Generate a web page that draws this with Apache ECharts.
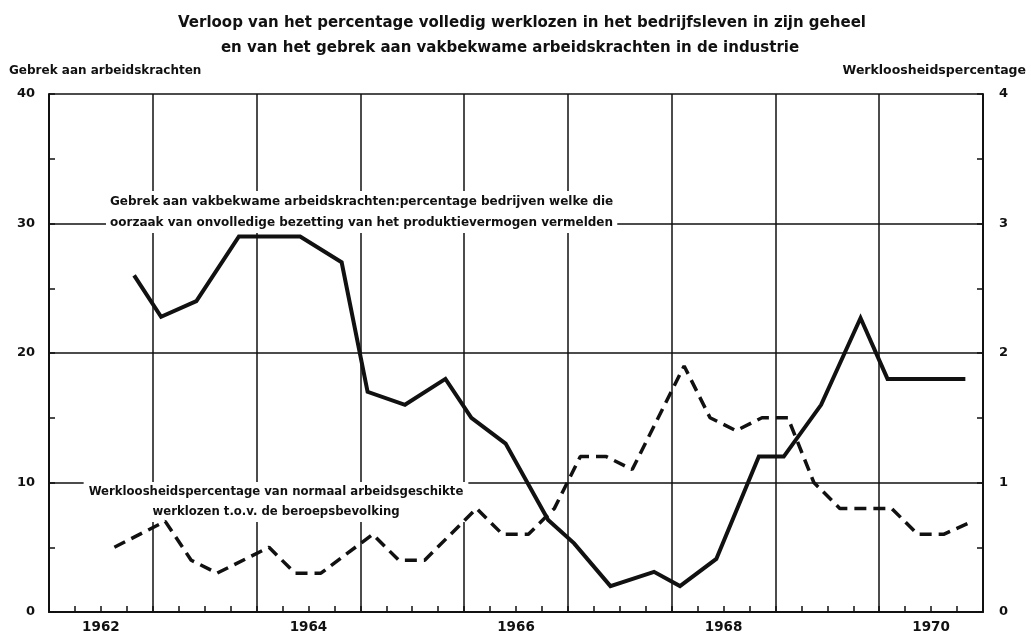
<!DOCTYPE html>
<html>
<head>
<meta charset="utf-8" />
<title>Werkloosheid en gebrek aan arbeidskrachten</title>
<script src="https://cdn.jsdelivr.net/npm/echarts@6/dist/echarts.min.js"></script>
<style>
html, body { margin: 0; padding: 0; background: #fff; }
#chart { width: 1031px; height: 634px; }
</style>
</head>
<body>
<div id="chart"></div>
<script>
// gebrek aan vakbekwame arbeidskrachten (linker as, %)
var tekortJaren = [1962.82, 1963.08, 1963.42, 1963.83, 1964.08, 1964.42, 1964.82, 1965.07, 1965.43, 1965.82,
	1966.07, 1966.4, 1966.81, 1967.06, 1967.41, 1967.83, 1968.08, 1968.43, 1968.84, 1969.08, 1969.44, 1969.82,
	1970.08, 1970.42, 1970.83];
var tekortWaarden = [26, 22.8, 24, 29, 29, 29, 27, 17, 16, 18, 15, 13, 7.1, 5.3, 2, 3.1, 2, 4.1, 12, 12, 16, 22.7,
	18, 18, 18];

// werkloosheidspercentage (rechter as)
var werklJaren = [1962.63, 1963.12, 1963.37, 1963.62, 1964.12, 1964.37, 1964.62, 1965.12, 1965.37, 1965.62,
	1966.12, 1966.37, 1966.62, 1966.87, 1967.12, 1967.37, 1967.62, 1968.12, 1968.37, 1968.62, 1968.87,
	1969.12, 1969.37, 1969.62, 1969.87, 1970.12, 1970.37, 1970.62, 1970.9];
var werklWaarden = [0.5, 0.7, 0.4, 0.3, 0.5, 0.3, 0.3, 0.6, 0.4, 0.4, 0.8, 0.6, 0.6, 0.8, 1.2, 1.2, 1.1, 1.9, 1.5,
	1.4, 1.5, 1.5, 1.0, 0.8, 0.8, 0.8, 0.6, 0.6, 0.7];

var jaarLabels = ['1962', '', '1964', '', '1966', '', '1968', '', '1970'];

var zwart = '#111';
var fam = '"DejaVu Sans", sans-serif';

function paren(xs, ys) {
	var out = [];
	for (var i = 0; i < xs.length; i++) {
		out.push([xs[i], ys[i]]);
	}
	return out;
}

var lijn = { color: zwart, width: 1.5 };

var option = {
	animation: false,
	backgroundColor: '#fff',
	grid: { left: 49, right: 48, top: 94, bottom: 19 },
	xAxis: [{
		type: 'value', min: 1962, max: 1971, interval: 1,
		axisLine: { lineStyle: { color: zwart, width: 2 } },
		axisTick: { show: true, inside: true, length: 6, lineStyle: lijn },
		minorTick: { show: true, splitNumber: 4, length: 6, lineStyle: lijn },
		axisLabel: { show: false },
		splitLine: { show: true, lineStyle: lijn }
	}, {
		type: 'category', data: jaarLabels, boundaryGap: true, position: 'bottom',
		axisLine: { show: false }, axisTick: { show: false }, splitLine: { show: false },
		axisLabel: { interval: 0, margin: 8, color: zwart, fontSize: 13.5, fontWeight: 'bold', fontFamily: fam }
	}],
	yAxis: [{
		type: 'value', min: 0, max: 40, interval: 10, position: 'left',
		axisLine: { show: true, lineStyle: { color: zwart, width: 2 } },
		axisTick: { show: true, inside: true, length: 6, lineStyle: lijn },
		minorTick: { show: true, splitNumber: 2, length: 6, lineStyle: lijn },
		axisLabel: { margin: 14, color: zwart, fontSize: 13, fontWeight: 'bold', fontFamily: fam },
		splitLine: { show: true, lineStyle: lijn }
	}, {
		type: 'value', min: 0, max: 4, interval: 1, position: 'right',
		axisLine: { show: true, lineStyle: { color: zwart, width: 2 } },
		axisTick: { show: true, inside: true, length: 6, lineStyle: lijn },
		minorTick: { show: true, splitNumber: 2, length: 6, lineStyle: lijn },
		axisLabel: { margin: 16, color: zwart, fontSize: 13, fontWeight: 'bold', fontFamily: fam },
		splitLine: { show: false }
	}],
	graphic: [
		{ type: 'text', z: 1, x: 522, y: 23, style: { text: 'Verloop van het percentage volledig werklozen in het bedrijfsleven in zijn geheel', fill: zwart, font: 'bold 15px ' + fam, textAlign: 'center', textVerticalAlign: 'middle' } },
		{ type: 'text', z: 1, x: 510, y: 48, style: { text: 'en van het gebrek aan vakbekwame arbeidskrachten in de industrie', fill: zwart, font: 'bold 15px ' + fam, textAlign: 'center', textVerticalAlign: 'middle' } },
		{ type: 'text', z: 1, x: 9, y: 71, style: { text: 'Gebrek aan arbeidskrachten', fill: zwart, font: 'bold 12px ' + fam, textAlign: 'left', textVerticalAlign: 'middle' } },
		{ type: 'text', z: 1, x: 1026, y: 71, style: { text: 'Werkloosheidspercentage', fill: zwart, font: 'bold 12.5px ' + fam, textAlign: 'right', textVerticalAlign: 'middle' } },
		{ type: 'text', z: 1, x: 106, y: 191, style: {
			text: 'Gebrek aan vakbekwame arbeidskrachten:percentage bedrijven welke die\noorzaak van onvolledige bezetting van het produktievermogen vermelden',
			fill: zwart, font: 'bold 12px ' + fam, lineHeight: 21, textAlign: 'left', textVerticalAlign: 'top',
			backgroundColor: '#fff', padding: [0, 4] } },
		{ type: 'text', z: 1, x: 276, y: 482, style: {
			text: 'Werkloosheidspercentage van normaal arbeidsgeschikte\nwerklozen t.o.v. de beroepsbevolking',
			fill: zwart, font: 'bold 11.7px ' + fam, lineHeight: 20, textAlign: 'center', textVerticalAlign: 'top',
			backgroundColor: '#fff', padding: [0, 5] } }
	],
	series: [{
		name: 'Gebrek aan vakbekwame arbeidskrachten',
		type: 'line', xAxisIndex: 0, yAxisIndex: 0, z: 3,
		data: paren(tekortJaren, tekortWaarden),
		symbol: 'none',
		lineStyle: { color: zwart, width: 4, join: 'miter' }
	}, {
		name: 'Werkloosheidspercentage',
		type: 'line', xAxisIndex: 0, yAxisIndex: 1, z: 3,
		data: paren(werklJaren, werklWaarden),
		symbol: 'none',
		lineStyle: { color: zwart, width: 3.5, type: [12, 7] }
	}]
};

var myChart = echarts.init(document.getElementById('chart'));
myChart.setOption(option);
window.onresize = myChart.resize;
</script>
</body>
</html>
